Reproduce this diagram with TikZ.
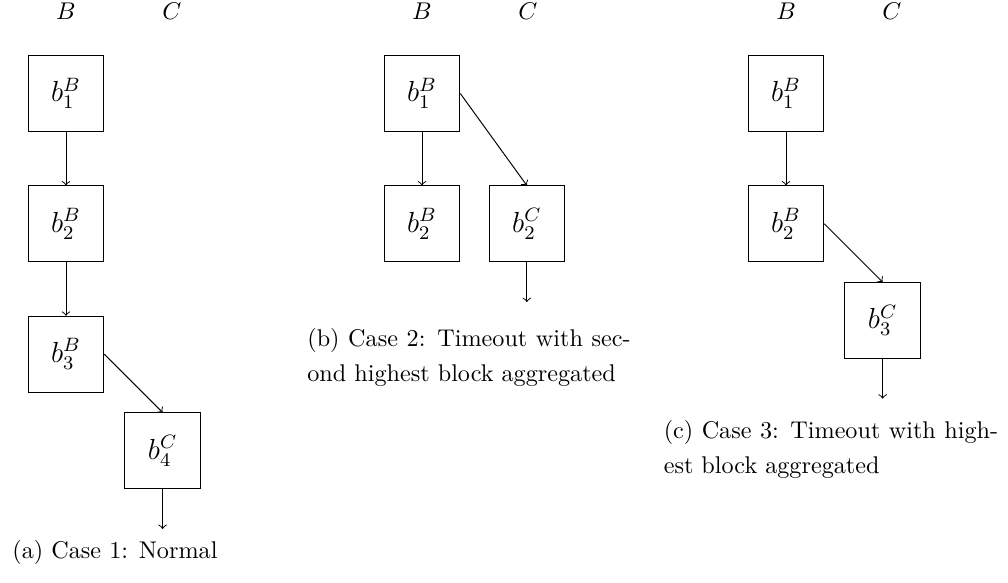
\documentclass[tikz,border=0pt]{standalone}
\usepackage{tikz}
\usetikzlibrary{positioning}
\tikzset{
  blk/.style={draw,minimum size=1.1cm,inner sep=0pt,font=\large},
  link/.style={->},
  colhead/.style={anchor=base,inner sep=0pt},
  subcap/.style={anchor=base west,inner sep=0pt,align=justify,font=\fontsize{10}{14.5}\selectfont}
}
\begin{document}
\begin{tikzpicture}
\useasboundingbox (0,0) rectangle (14.65,-8.47);
% chain headers
\foreach \x/\p in {0.959/a,6.133/b,11.424/c}{
  \node[colhead] (\p hB) at (\x,-0.29){$B$};
  \node[colhead] (\p hC) at (\x+1.54,-0.29){$C$};}
% (a) normal case
\node[blk] (a1) at (0.959,-1.359){$b_1^B$};
\node[blk,below=0.78cm of a1] (a2){$b_2^B$};
\node[blk,below=0.78cm of a2] (a3){$b_3^B$};
\node[blk,below right=0.29cm and 0.29cm of a3] (a4){$b_4^C$};
\coordinate[below=0.58cm of a4.south] (a5);
\draw[link] (a1) -- (a2);
\draw[link] (a2) -- (a3);
\draw[link] (a3.east) -- (a4.north);
\draw[link] (a4) -- (a5);
\node[subcap,text width=5cm] (capa) at (0.174,-8.12){(a) Case 1: Normal};
% (b) second highest aggregated
\node[blk] (b1) at (6.133,-1.359){$b_1^B$};
\node[blk,below=0.78cm of b1] (b2){$b_2^B$};
\node[blk,right=0.41cm of b2] (b3){$b_2^C$};
\coordinate[below=0.58cm of b3.south] (b4);
\draw[link] (b1) -- (b2);
\draw[link] (b1.east) -- (b3.north);
\draw[link] (b3) -- (b4);
\node[subcap,text width=4.7cm] (capb) at (4.46,-5.03){(b) Case 2: Timeout with sec-\linebreak ond highest block aggregated};
% (c) highest aggregated
\node[blk] (c1) at (11.424,-1.359){$b_1^B$};
\node[blk,below=0.78cm of c1] (c2){$b_2^B$};
\node[blk,below right=0.29cm and 0.29cm of c2] (c3){$b_3^C$};
\coordinate[below=0.58cm of c3.south] (c4);
\draw[link] (c1) -- (c2);
\draw[link] (c2.east) -- (c3.north);
\draw[link] (c3) -- (c4);
\node[subcap,text width=4.86cm] (capc) at (9.64,-6.37){(c) Case 3: Timeout with high-\linebreak est block aggregated};
\end{tikzpicture}
\end{document}
